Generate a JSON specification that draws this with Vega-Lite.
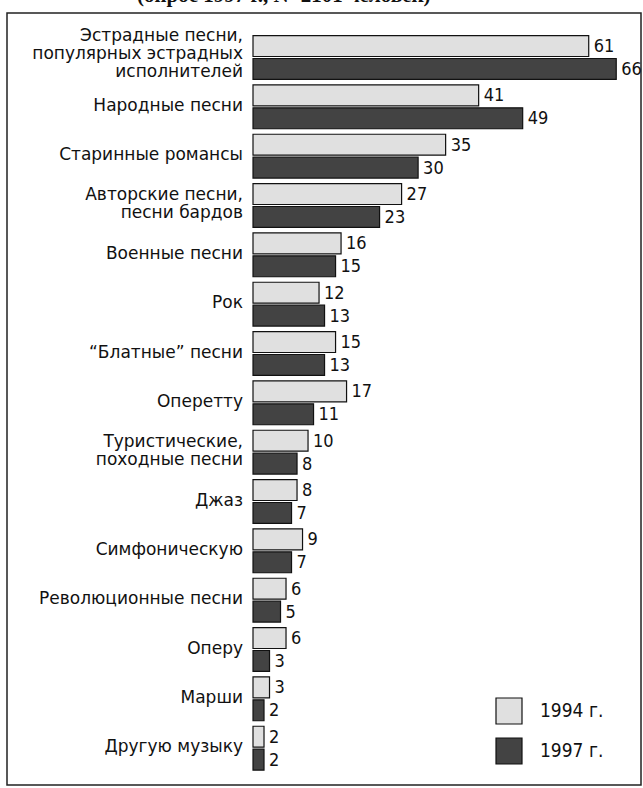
{
  "$schema": "https://vega.github.io/schema/vega-lite/v6.json",
  "autosize": {"type": "none"},
  "padding": {"left": 7, "top": 13, "right": 2, "bottom": 3},
  "width": 634,
  "height": 772,
  "title": {"text": "(опрос 1997 г., N=2101 человек)", "font": "Liberation Serif", "fontSize": 21, "fontWeight": "bold", "anchor": "start", "dx": 130, "offset": -14, "baseline": "bottom", "color": "#111"},
  "config": {"view": {"stroke": "#222", "strokeWidth": 1.5}, "font": "DejaVu Sans"},
  "data": {"values": [
    {"category": "Эстрадные песни,|популярных эстрадных|исполнителей", "year": "1994 г.", "value": 61},
    {"category": "Эстрадные песни,|популярных эстрадных|исполнителей", "year": "1997 г.", "value": 66},
    {"category": "Народные песни", "year": "1994 г.", "value": 41},
    {"category": "Народные песни", "year": "1997 г.", "value": 49},
    {"category": "Старинные романсы", "year": "1994 г.", "value": 35},
    {"category": "Старинные романсы", "year": "1997 г.", "value": 30},
    {"category": "Авторские песни,|песни бардов", "year": "1994 г.", "value": 27},
    {"category": "Авторские песни,|песни бардов", "year": "1997 г.", "value": 23},
    {"category": "Военные песни", "year": "1994 г.", "value": 16},
    {"category": "Военные песни", "year": "1997 г.", "value": 15},
    {"category": "Рок", "year": "1994 г.", "value": 12},
    {"category": "Рок", "year": "1997 г.", "value": 13},
    {"category": "“Блатные” песни", "year": "1994 г.", "value": 15},
    {"category": "“Блатные” песни", "year": "1997 г.", "value": 13},
    {"category": "Оперетту", "year": "1994 г.", "value": 17},
    {"category": "Оперетту", "year": "1997 г.", "value": 11},
    {"category": "Туристические,|походные песни", "year": "1994 г.", "value": 10},
    {"category": "Туристические,|походные песни", "year": "1997 г.", "value": 8},
    {"category": "Джаз", "year": "1994 г.", "value": 8},
    {"category": "Джаз", "year": "1997 г.", "value": 7},
    {"category": "Симфоническую", "year": "1994 г.", "value": 9},
    {"category": "Симфоническую", "year": "1997 г.", "value": 7},
    {"category": "Революционные песни", "year": "1994 г.", "value": 6},
    {"category": "Революционные песни", "year": "1997 г.", "value": 5},
    {"category": "Оперу", "year": "1994 г.", "value": 6},
    {"category": "Оперу", "year": "1997 г.", "value": 3},
    {"category": "Марши", "year": "1994 г.", "value": 3},
    {"category": "Марши", "year": "1997 г.", "value": 2},
    {"category": "Другую музыку", "year": "1994 г.", "value": 2},
    {"category": "Другую музыку", "year": "1997 г.", "value": 2}
  ]},
  "encoding": {
    "y": {"field": "category", "type": "nominal", "sort": null, "axis": null, "scale": {"paddingOuter": 0.324, "paddingInner": 0, "align": 0.62}}
  },
  "layer": [
    {
      "mark": {"type": "bar", "stroke": "#111", "strokeWidth": 1.2},
      "encoding": {
        "x": {"field": "value", "type": "quantitative", "scale": {"domain": [-44.7, 70.5], "nice": false, "zero": false}, "axis": null},
        "x2": {"datum": 0},
        "yOffset": {"field": "year", "type": "nominal", "scale": {"paddingInner": 0.087, "paddingOuter": 0.12}},
        "fill": {"field": "year", "type": "nominal", "scale": {"domain": ["1994 г.", "1997 г."], "range": ["#e0e0e0", "#434343"]},
          "legend": {"orient": "none", "legendX": 488, "legendY": 684, "title": null, "symbolType": "square", "symbolSize": 676, "symbolStrokeColor": "#111", "symbolStrokeWidth": 1.2, "labelFontSize": 19, "labelOffset": 17, "rowPadding": 8, "padding": 0, "labelFont": "DejaVu Sans Condensed, DejaVu Sans", "labelColor": "#111"}}
      }
    },
    {
      "mark": {"type": "text", "align": "left", "baseline": "middle", "dx": 5, "dy": 1, "fontSize": 18, "font": "DejaVu Sans Condensed, DejaVu Sans", "color": "#111"},
      "encoding": {
        "x": {"field": "value", "type": "quantitative", "scale": {"domain": [-44.7, 70.5], "nice": false, "zero": false}},
        "yOffset": {"field": "year", "type": "nominal", "scale": {"paddingInner": 0.087, "paddingOuter": 0.12}},
        "text": {"field": "value", "type": "quantitative"}
      }
    },
    {
      "transform": [{"filter": "length(split(datum.category, '|')) == 1 && datum.year == '1994 г.'"}],
      "mark": {"type": "text", "align": "right", "baseline": "middle", "dx": -10, "dy": -1, "fontSize": 17, "color": "#111"},
      "encoding": {
        "x": {"datum": 0, "type": "quantitative", "scale": {"domain": [-44.7, 70.5], "nice": false, "zero": false}},
        "text": {"field": "category", "type": "nominal"}
      }
    },
    {
      "transform": [{"filter": "length(split(datum.category, '|')) == 2 && datum.year == '1994 г.'"}],
      "mark": {"type": "text", "align": "right", "baseline": "middle", "dx": -10, "dy": -10, "fontSize": 17, "lineBreak": "|", "lineHeight": 18, "color": "#111"},
      "encoding": {
        "x": {"datum": 0, "type": "quantitative", "scale": {"domain": [-44.7, 70.5], "nice": false, "zero": false}},
        "text": {"field": "category", "type": "nominal"}
      }
    },
    {
      "transform": [{"filter": "length(split(datum.category, '|')) == 3 && datum.year == '1994 г.'"}],
      "mark": {"type": "text", "align": "right", "baseline": "middle", "dx": -10, "dy": -21, "fontSize": 17, "lineBreak": "|", "lineHeight": 18, "color": "#111"},
      "encoding": {
        "x": {"datum": 0, "type": "quantitative", "scale": {"domain": [-44.7, 70.5], "nice": false, "zero": false}},
        "text": {"field": "category", "type": "nominal"}
      }
    },
    {
      "mark": {"type": "rule", "color": "#111", "strokeWidth": 1.5},
      "encoding": {
        "x": {"datum": 0, "type": "quantitative", "scale": {"domain": [-44.7, 70.5], "nice": false, "zero": false}}
      }
    }
  ]
}
